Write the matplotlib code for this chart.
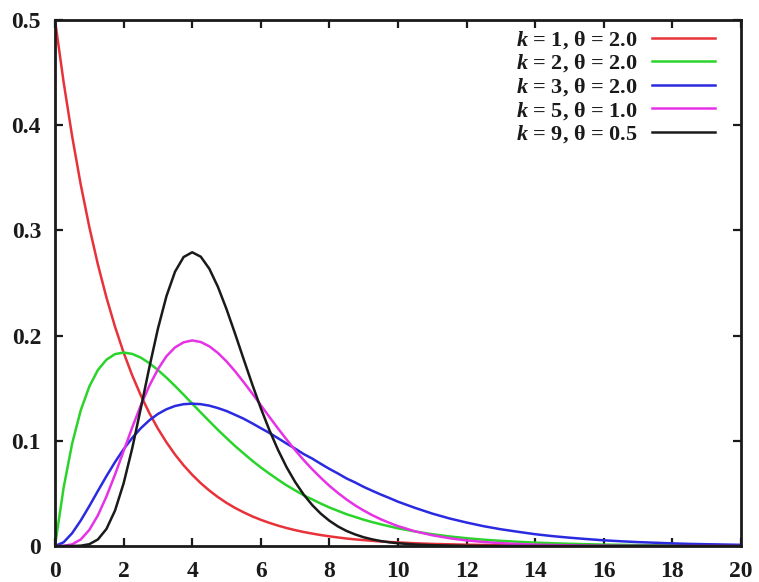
import matplotlib
matplotlib.use("Agg")
import matplotlib.pyplot as plt

plt.rcParams['font.family'] = ['Liberation Serif', 'DejaVu Serif']
plt.rcParams['mathtext.fontset'] = 'custom'
plt.rcParams['mathtext.it'] = 'Liberation Serif:italic:bold'
plt.rcParams['mathtext.rm'] = 'Liberation Serif:bold'

x = [0, 0.25, 0.5, 0.75, 1, 1.25, 1.5, 1.75, 2, 2.25, 2.5, 2.75, 3, 3.25, 3.5, 3.75,
     4, 4.25, 4.5, 4.75, 5, 5.25, 5.5, 5.75, 6, 6.25, 6.5, 6.75, 7, 7.25, 7.5, 7.75,
     8, 8.25, 8.5, 8.75, 9, 9.25, 9.5, 9.75, 10, 10.5, 11, 11.5, 12, 12.5, 13, 13.5,
     14, 14.5, 15, 15.5, 16, 16.5, 17, 17.5, 18, 18.5, 19, 19.5, 20]

red = [0.5, 0.4412, 0.3894, 0.3436, 0.3033, 0.2676, 0.2362, 0.2084, 0.1839, 0.1623,
       0.1433, 0.1264, 0.1116, 0.0985, 0.0869, 0.0767, 0.0677, 0.0597, 0.0527, 0.0465,
       0.0410, 0.0362, 0.0320, 0.0282, 0.0249, 0.0220, 0.0194, 0.0171, 0.0151, 0.0133,
       0.0118, 0.0104, 0.0092, 0.0081, 0.0071, 0.0063, 0.0056, 0.0049, 0.0043, 0.0038,
       0.0034, 0.0026, 0.0020, 0.0016, 0.0012, 0.0010, 0.0008, 0.0006, 0.0005, 0.0004,
       0.0003, 0.0002, 0.0002, 0.0001, 0.0001, 0.0001, 0.0001, 0.0, 0.0, 0.0, 0.0]

green = [0.0, 0.0552, 0.0974, 0.1289, 0.1516, 0.1673, 0.1771, 0.1824, 0.1839, 0.1826,
         0.1791, 0.1738, 0.1673, 0.1600, 0.1521, 0.1438, 0.1353, 0.1269, 0.1186, 0.1104,
         0.1026, 0.0950, 0.0880, 0.0811, 0.0747, 0.0688, 0.0631, 0.0577, 0.0529, 0.0482,
         0.0443, 0.0403, 0.0366, 0.0334, 0.0302, 0.0276, 0.0250, 0.0227, 0.0206, 0.0187,
         0.0168, 0.0138, 0.0112, 0.0091, 0.0074, 0.0060, 0.0049, 0.0040, 0.0032, 0.0026,
         0.0021, 0.0017, 0.0013, 0.0011, 0.0009, 0.0007, 0.0006, 0.0004, 0.0004, 0.0003,
         0.0002]

blue = [0.0, 0.0035, 0.0122, 0.0242, 0.0379, 0.0523, 0.0664, 0.0798, 0.0920, 0.1027,
        0.1119, 0.1195, 0.1255, 0.1300, 0.1331, 0.1348, 0.1353, 0.1348, 0.1334, 0.1311,
        0.1283, 0.1247, 0.1210, 0.1166, 0.1120, 0.1075, 0.1025, 0.0974, 0.0926, 0.0874,
        0.0831, 0.0781, 0.0733, 0.0689, 0.0642, 0.0604, 0.0562, 0.0525, 0.0489, 0.0456,
        0.0421, 0.0362, 0.0308, 0.0262, 0.0223, 0.0188, 0.0159, 0.0135, 0.0112, 0.0094,
        0.0079, 0.0066, 0.0054, 0.0045, 0.0037, 0.0031, 0.0025, 0.0020, 0.0017, 0.0014,
        0.0011]

magenta = [0.0, 0.0001, 0.0016, 0.0062, 0.0153, 0.0291, 0.0471, 0.0679, 0.0902, 0.1126,
           0.1336, 0.1523, 0.1680, 0.1804, 0.1888, 0.1936, 0.1954, 0.1939, 0.1898, 0.1835,
           0.1755, 0.1661, 0.1558, 0.1450, 0.1339, 0.1227, 0.1118, 0.1013, 0.0912, 0.0817,
           0.0729, 0.0648, 0.0572, 0.0504, 0.0442, 0.0386, 0.0337, 0.0293, 0.0254, 0.0220,
           0.0189, 0.0139, 0.0102, 0.0074, 0.0053, 0.0038, 0.0027, 0.0019, 0.0013, 0.0009,
           0.0007, 0.0004, 0.0003, 0.0002, 0.0001, 0.0001, 0.0, 0.0, 0.0, 0.0, 0.0]

black = [0.0, 0.0, 0.0, 0.0003, 0.0017, 0.0062, 0.0162, 0.0337, 0.0595, 0.0927,
         0.1306, 0.1697, 0.2065, 0.2376, 0.2608, 0.2747, 0.2792, 0.2750, 0.2635, 0.2463,
         0.2252, 0.2018, 0.1776, 0.1537, 0.1310, 0.1102, 0.0915, 0.0750, 0.0609, 0.0489,
         0.0389, 0.0307, 0.0240, 0.0186, 0.0143, 0.0110, 0.0083, 0.0063, 0.0047, 0.0035,
         0.0026, 0.0014, 0.0008, 0.0004, 0.0002, 0.0001, 0.0, 0.0, 0.0, 0.0,
         0.0, 0.0, 0.0, 0.0, 0.0, 0.0, 0.0, 0.0, 0.0, 0.0, 0.0]

labels = [r"$k$ = 1, θ = 2.0", r"$k$ = 2, θ = 2.0", r"$k$ = 3, θ = 2.0",
          r"$k$ = 5, θ = 1.0", r"$k$ = 9, θ = 0.5"]
series = [red, green, blue, magenta, black]
colors = ["#e8323a", "#2ad42a", "#2a2ae0", "#e632e6", "#1a1a1a"]

xticks = [0, 2, 4, 6, 8, 10, 12, 14, 16, 18, 20]
yticks = [0, 0.1, 0.2, 0.3, 0.4, 0.5]
yticklabels = ["0", "0.1", "0.2", "0.3", "0.4", "0.5"]

fig = plt.figure(figsize=(7.59, 5.82), dpi=100)
ax = fig.add_axes([55 / 759, 1 - 546 / 582, (741 - 55) / 759, (546 - 20) / 582])

for ys, c, lab in zip(series, colors, labels):
    ax.plot(x, ys, color=c, lw=1.8, label=lab, solid_joinstyle='round')

ax.set_xlim(0, 20)
ax.set_ylim(0, 0.5)
ax.set_xticks(xticks)
ax.set_xticklabels([str(t) for t in xticks])
ax.set_yticks(yticks)
ax.set_yticklabels(yticklabels)

for s in ax.spines.values():
    s.set_linewidth(2.0)
    s.set_color("#1a1a1a")

ax.tick_params(axis='both', which='major', direction='in', length=6, width=1.6,
               top=True, right=True, labelsize=17, colors="#1a1a1a")
ax.tick_params(axis='x', pad=11)
ax.tick_params(axis='y', pad=10)
for lbl in ax.get_xticklabels() + ax.get_yticklabels():
    lbl.set_fontweight('bold')

leg = ax.legend(loc='upper right', bbox_to_anchor=(660 / 686, 1 - 9 / 526),
                frameon=False, markerfirst=False,
                fontsize=16, handlelength=2.84, handletextpad=0.63,
                borderpad=0.0, borderaxespad=0.0, labelspacing=0.08)
for t in leg.get_texts():
    t.set_fontweight('bold')
    t.set_color("#1a1a1a")

fig.savefig("out.png", dpi=100, facecolor='white')
